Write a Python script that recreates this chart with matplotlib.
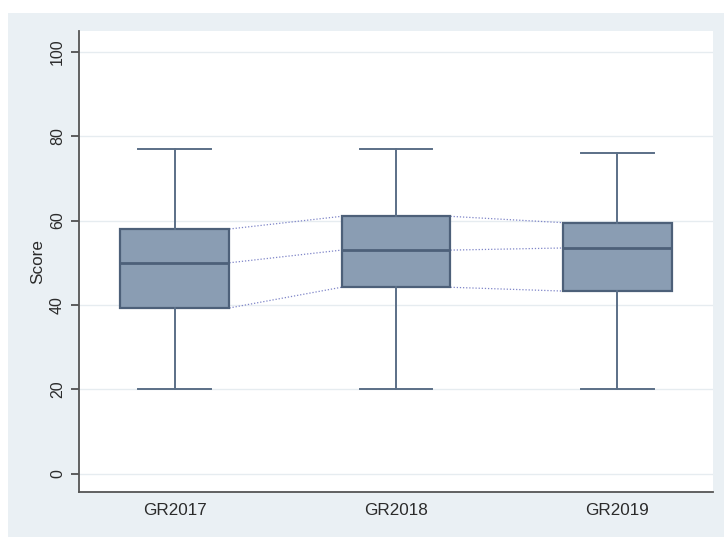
import matplotlib
matplotlib.use('Agg')
import matplotlib.pyplot as plt
from matplotlib.patches import Rectangle

plt.rcParams['font.family'] = ['Liberation Sans', 'DejaVu Sans']

# Five-number summaries per cohort
groups = ['GR2017', 'GR2018', 'GR2019']
whislo = [20, 20, 20]
q1 = [39.3, 44.2, 43.3]
med = [50.0, 53.0, 53.5]
q3 = [58.0, 61.0, 59.5]
whishi = [77, 77, 76]

box_face = '#8a9db3'
box_edge = '#4d6079'
whisk_col = '#5b6f87'
link_col = '#7f85c8'
panel_col = '#eaf0f4'
text_col = '#2b2b2b'

fig = plt.figure(figsize=(7.24, 5.37), dpi=100)
fig.patch.set_facecolor('white')
fig.patches.append(Rectangle((8 / 724, 0), 1 - 8 / 724, (537 - 13) / 537,
                             transform=fig.transFigure, facecolor=panel_col,
                             edgecolor='none', zorder=-10))

ax = fig.add_axes([79 / 724, 45 / 537, 634 / 724, 461 / 537])
ax.set_facecolor('white')

stats = []
for i, g in enumerate(groups):
    stats.append({'label': g, 'whislo': whislo[i], 'q1': q1[i], 'med': med[i],
                  'q3': q3[i], 'whishi': whishi[i], 'fliers': []})

pos = [1, 2, 3]
bw = 0.493
ax.bxp(stats, positions=pos, widths=bw, capwidths=0.33, patch_artist=True,
       showfliers=False,
       boxprops=dict(facecolor=box_face, edgecolor=box_edge, linewidth=1.6),
       medianprops=dict(color=box_edge, linewidth=2.0),
       whiskerprops=dict(color=whisk_col, linewidth=1.4),
       capprops=dict(color=whisk_col, linewidth=1.4))

# dotted links between neighbouring boxes at q1, median and q3
for vals in (q1, med, q3):
    for i in range(len(pos) - 1):
        ax.plot([pos[i] + bw / 2, pos[i + 1] - bw / 2], [vals[i], vals[i + 1]],
                linestyle=(0, (1, 1.5)), color=link_col, linewidth=0.9, zorder=1)

ax.set_xlim(0.566, 3.434)
ax.set_ylim(-4.3, 104.9)
ax.set_yticks([0, 20, 40, 60, 80, 100])
ax.set_yticklabels(['0', '20', '40', '60', '80', '100'], rotation=90, va='center')
ax.set_xticks(pos)
ax.set_xticklabels(groups)
ax.tick_params(axis='y', length=6, width=1.2, color='#444444', labelsize=11.5,
               labelcolor=text_col, pad=4)
ax.tick_params(axis='x', length=0, labelsize=12.3, labelcolor=text_col, pad=8)
ax.set_ylabel('Score', fontsize=12.3, color=text_col)
ax.yaxis.set_label_coords(-0.054, 0.5)

ax.grid(axis='y', color='#e6ecf0', linewidth=1.0)
ax.set_axisbelow(True)
for side in ('top', 'right'):
    ax.spines[side].set_visible(False)
for side in ('left', 'bottom'):
    ax.spines[side].set_color('#555555')
    ax.spines[side].set_linewidth(1.3)

fig.savefig('out.png', dpi=100, facecolor=fig.get_facecolor())
